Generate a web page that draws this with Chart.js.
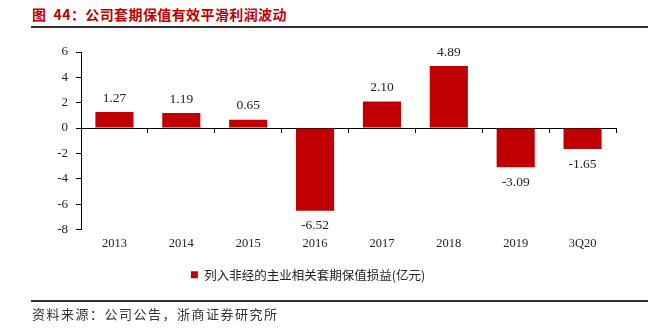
<!DOCTYPE html>
<html>
<head>
<meta charset="utf-8">
<script src="https://cdn.jsdelivr.net/npm/chart.js@4"></script>
<style>
  html, body { margin: 0; padding: 0; background: #fff; }
  #wrap { position: relative; width: 651px; height: 328px; overflow: hidden; }
  #chart { position: absolute; left: 0; top: 0; }
  .title {
    position: absolute; left: 32px; top: 4px;
    font: bold 14px "Noto Sans CJK SC", sans-serif; color: #c00000;
    white-space: pre; letter-spacing: 0.4px;
  }
  .rule { position: absolute; left: 31px; width: 617px; height: 2px; background: #333; }
  .source {
    position: absolute; left: 32px; top: 304px;
    font: 13px "Noto Sans CJK SC", sans-serif; color: #333; letter-spacing: 1.5px;
    white-space: nowrap;
  }
</style>
</head>
<body>
<div id="wrap">
  <div class="title">图  44：公司套期保值有效平滑利润波动</div>
  <div class="rule" style="top:26px"></div>
  <canvas id="chart" width="651" height="328"></canvas>
  <div class="rule" style="top:300px"></div>
  <div class="source">资料来源：公司公告，浙商证券研究所</div>
</div>
<script>
// ── 데이터 ──────────────────────────────────────────────
const categories = ["2013", "2014", "2015", "2016", "2017", "2018", "2019", "3Q20"];
const hedgeGain = [1.27, 1.19, 0.65, -6.52, 2.10, 4.89, -3.09, -1.65];
const yTicks = [-8, -6, -4, -2, 0, 2, 4, 6];
const seriesName = "列入非经的主业相关套期保值损益(亿元)";

const RED = "#c00000";
const SERIF = "'Liberation Serif', 'Times New Roman', serif";

// 막대 위/아래 값 표시
const valueLabels = {
  id: "valueLabels",
  afterDatasetsDraw(chart) {
    const ctx = chart.ctx;
    const meta = chart.getDatasetMeta(0);
    ctx.save();
    ctx.font = "13.5px " + SERIF;
    ctx.fillStyle = "#222";
    ctx.textAlign = "center";
    ctx.textBaseline = "middle";
    meta.data.forEach((bar, i) => {
      const v = hedgeGain[i];
      const y = v >= 0 ? bar.y - 14 : bar.y + 15;
      ctx.fillText(v.toFixed(2), bar.x, y);
    });
    ctx.restore();
  },
};

new Chart(document.getElementById("chart"), {
  type: "bar",
  data: {
    labels: categories,
    datasets: [{
      label: seriesName,
      data: hedgeGain,
      backgroundColor: RED,
      borderWidth: 0,
      categoryPercentage: 1,
      barPercentage: 0.57,
    }],
  },
  options: {
    responsive: false,
    animation: false,
    layout: { padding: { top: 52, left: 0, right: 35, bottom: 37 } },
    plugins: {
      tooltip: { enabled: false },
      legend: {
        position: "bottom",
        labels: {
          boxWidth: 7, boxHeight: 7, padding: 10,
          color: "#222",
          font: { family: "'Noto Sans CJK SC', sans-serif", size: 12.5 },
        },
      },
    },
    scales: {
      x: {
        position: "bottom",
        grid: { display: false, drawTicks: false },
        border: { display: false },
        ticks: { color: "#222", padding: 7, font: { family: SERIF, size: 12.5 } },
        afterFit: (s) => { s.height = 29; },
      },
      x0: {
        type: "category",
        labels: categories,
        position: { y: 0 },
        offset: true,
        grid: { drawOnChartArea: false, drawTicks: true, tickLength: 4, color: "#000", offset: true },
        border: { display: true, color: "#000", width: 1 },
        ticks: { display: false },
      },
      y: {
        min: -8,
        max: 6,
        afterBuildTicks: (s) => { s.ticks = yTicks.map((v) => ({ value: v })); },
        grid: { drawOnChartArea: false, drawTicks: true, tickLength: 5, color: "#000" },
        border: { display: true, color: "#000", width: 1 },
        ticks: { color: "#222", padding: 8, font: { family: SERIF, size: 13 } },
        afterFit: (s) => { s.width = 81; },
      },
    },
  },
  plugins: [valueLabels],
});
</script>
</body>
</html>
